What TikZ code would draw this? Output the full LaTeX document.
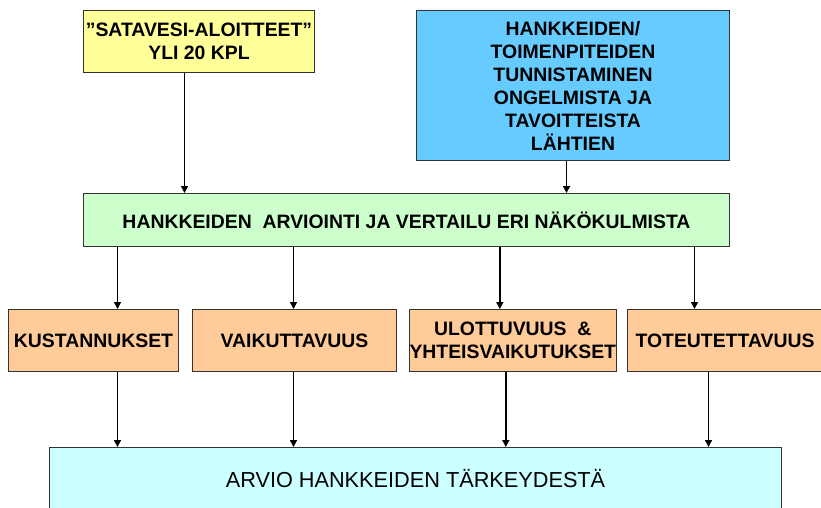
\documentclass[tikz,border=0pt]{standalone}
\usepackage{fontspec}
\setmainfont{Liberation Sans}
\usetikzlibrary{arrows.meta}
\definecolor{cyel}{HTML}{FFFF99}
\definecolor{cblue}{HTML}{66CCFF}
\definecolor{cgreen}{HTML}{CCFFCC}
\definecolor{corange}{HTML}{FFCC99}
\definecolor{ccyan}{HTML}{CCFFFF}
\begin{document}
\begin{tikzpicture}[x=1pt,y=-1pt,
  box/.style={draw=black!80, line width=1pt, inner sep=0pt, align=center, anchor=north west,
    font=\fontsize{19.4}{23}\selectfont\bfseries},
  arr/.style={line width=1.6pt, -{Triangle[length=7pt,width=7pt]}}]
\useasboundingbox (0,0) rectangle (821,508);
\node[box, fill=cyel, minimum width=231pt, minimum height=62pt] (yel) at (83,10) {”SATAVESI-ALOITTEET”\\YLI 20 KPL};
\node[box, fill=cblue, minimum width=313pt, minimum height=150pt] (blu) at (416,10) {HANKKEIDEN/\\TOIMENPITEIDEN\\TUNNISTAMINEN\\ONGELMISTA JA\\TAVOITTEISTA\\LÄHTIEN};
\node[box, fill=cgreen, minimum width=646pt, minimum height=53pt] (grn) at (83,193) {HANKKEIDEN\ \ ARVIOINTI JA VERTAILU ERI NÄKÖKULMISTA};
\node[box, fill=corange, minimum width=170pt, minimum height=62pt] (kus) at (8,309) {KUSTANNUKSET};
\node[box, fill=corange, minimum width=204pt, minimum height=62pt] (vai) at (192,309) {VAIKUTTAVUUS};
\node[box, fill=corange, minimum width=204pt, minimum height=62pt] (ulo) at (409,309) {ULOTTUVUUS\ \ \&\\YHTEISVAIKUTUKSET};
\node[box, fill=corange, minimum width=195pt, minimum height=62pt] (tot) at (627,309) {TOTEUTETTAVUUS};
\node[box, fill=ccyan, minimum width=732pt, minimum height=62pt, font=\fontsize{21.7}{25}\selectfont] (bot) at (49,447) {ARVIO HANKKEIDEN TÄRKEYDESTÄ};
\draw[arr] ([xshift=-14.5pt]yel.south) -- ([xshift=-14.5pt]yel.south |- grn.north);
\draw[arr] ([xshift=-6.5pt]blu.south) -- ([xshift=-6.5pt]blu.south |- grn.north);
\draw[arr] ([xshift=24pt]kus.north |- grn.south) -- ([xshift=24pt]kus.north);
\draw[arr] ([xshift=-1pt]vai.north |- grn.south) -- ([xshift=-1pt]vai.north);
\draw[arr] ([xshift=-13pt]ulo.north |- grn.south) -- ([xshift=-13pt]ulo.north);
\draw[arr] ([xshift=-30.5pt]tot.north |- grn.south) -- ([xshift=-30.5pt]tot.north);
\draw[arr] ([xshift=24pt]kus.south) -- ([xshift=24pt]kus.south |- bot.north);
\draw[arr] ([xshift=-1pt]vai.south) -- ([xshift=-1pt]vai.south |- bot.north);
\draw[arr] ([xshift=-7pt]ulo.south) -- ([xshift=-7pt]ulo.south |- bot.north);
\draw[arr] ([xshift=-16.5pt]tot.south) -- ([xshift=-16.5pt]tot.south |- bot.north);
\end{tikzpicture}
\end{document}
